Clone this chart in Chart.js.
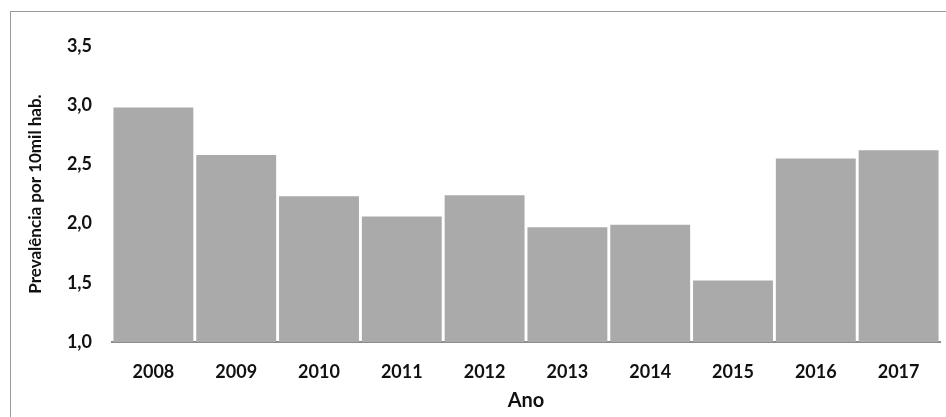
<!DOCTYPE html>
<html>
<head>
<meta charset="utf-8">
<script src="https://cdn.jsdelivr.net/npm/chart.js@4/dist/chart.umd.min.js"></script>
<style>
  html, body { margin: 0; padding: 0; background: #fff; }
  #wrap { position: relative; width: 946px; height: 417px; overflow: hidden; }
  #frame { position: absolute; left: 10px; top: 11px; width: 960px; height: 430px; border: 1px solid #9a9a9a; box-sizing: border-box; }
  canvas { position: absolute; left: 0; top: 0; }
</style>
</head>
<body>
<div id="wrap">
  <div id="frame"></div>
  <canvas id="chart" width="946" height="417"></canvas>
</div>
<script>
/* data */
const years = ["2008", "2009", "2010", "2011", "2012", "2013", "2014", "2015", "2016", "2017"];
const prevalence = [2.98, 2.58, 2.23, 2.06, 2.24, 1.97, 1.99, 1.52, 2.55, 2.62];
const yTicks = [1.0, 1.5, 2.0, 2.5, 3.0, 3.5];

const fontFamily = "Lato, 'Open Sans', sans-serif";

new Chart(document.getElementById("chart"), {
  type: "bar",
  data: {
    labels: years,
    datasets: [{
      data: prevalence,
      backgroundColor: "#aaaaaa",
      borderWidth: 0,
      barPercentage: 0.965,
      categoryPercentage: 1.0,
      base: 1.0
    }]
  },
  options: {
    responsive: false,
    animation: false,
    layout: { padding: { top: 46, right: 6, left: 0, bottom: 0 } },
    plugins: { legend: { display: false }, tooltip: { enabled: false } },
    scales: {
      x: {
        grid: { display: false, drawTicks: false },
        border: { display: true, color: "#8c8c8c", width: 2, dash: [2, 1] },
        ticks: {
          padding: 19,
          color: "#111",
          font: { family: fontFamily, size: 18, weight: "bold" }
        },
        title: {
          display: true,
          text: "Ano",
          color: "#111",
          padding: { top: 0, bottom: 4 },
          font: { family: fontFamily, size: 20, weight: "bold" }
        },
        afterFit: (scale) => { scale.height = 75; }
      },
      y: {
        min: 1.0,
        max: 3.5,
        grid: { display: false, drawTicks: false },
        border: { display: false },
        afterBuildTicks: (scale) => { scale.ticks = yTicks.map(v => ({ value: v })); },
        ticks: {
          padding: 20,
          color: "#111",
          font: { family: fontFamily, size: 18, weight: "bold" },
          callback: (v) => Number(v).toFixed(1).replace(".", ",")
        },
        title: {
          display: true,
          text: "Prevalência por 10mil hab.",
          color: "#111",
          padding: { top: 25, bottom: 0 },
          font: { family: fontFamily, size: 17, weight: "bold" }
        },
        afterFit: (scale) => { scale.width = 112; }
      }
    }
  }
});
</script>
</body>
</html>
